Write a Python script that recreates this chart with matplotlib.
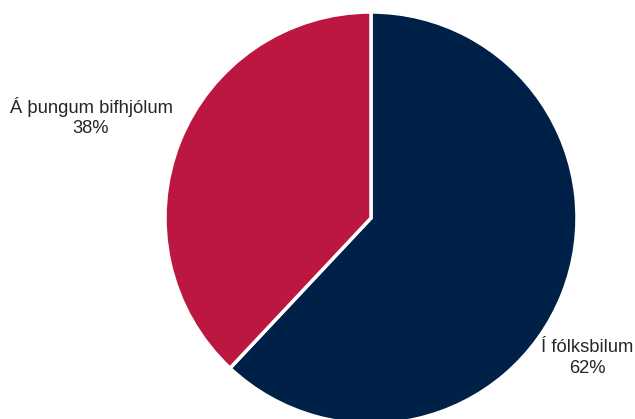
import matplotlib.pyplot as plt

# Share of ... by vehicle type
categories = ['Í fólksbilum', 'Á þungum bifhjólum']
shares = [62, 38]
colors = ['#002147', '#BC1740']

plt.rcParams['font.family'] = ['Liberation Sans', 'DejaVu Sans']

fig = plt.figure(figsize=(6.35, 4.19), dpi=100)
ax = fig.add_axes([0, 0, 1, 1])

# pixel-like data coordinates (y up)
cx, cy, r = 371, 201, 206
ax.pie(shares, colors=colors, startangle=90, counterclock=False,
       center=(cx, cy), radius=r,
       wedgeprops=dict(edgecolor='white', linewidth=2.5))

# label positions (pixels, y up)
label_pos = [(587, 61), (91, 302)]
for (x, y), name, val in zip(label_pos, categories, shares):
    ax.text(x, y, f'{name}\n{val}%', ha='center', va='center',
            fontsize=13.2, color='#262626', linespacing=1.3)

ax.set_xlim(0, 635)
ax.set_ylim(0, 419)
ax.set_aspect('auto')
ax.axis('off')

fig.savefig('out.png', dpi=100)
